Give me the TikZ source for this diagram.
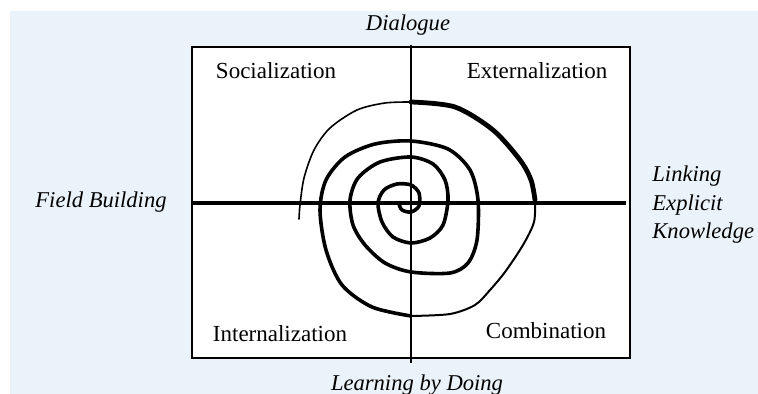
\documentclass[tikz,border=0pt]{standalone}
\usepackage{fontspec}
\setmainfont{Liberation Serif}
\definecolor{bgblue}{RGB}{235,243,250}
\begin{document}
\begin{tikzpicture}[x=0.5pt,y=-0.5pt,
  quad/.style={font=\fontsize{11.5}{13}\selectfont,inner sep=0pt},
  pole/.style={font=\fontsize{11.3}{14.25}\selectfont\itshape,inner sep=0pt},
  arm/.style={line cap=round,line join=round}]
  \useasboundingbox (0,0) rectangle (758,394);
  \fill[white] (0,0) rectangle (758,394);
  \fill[bgblue] (10,11) rectangle (758,394);
  \path (192,47) coordinate (nw) (630,358) coordinate (se)
  (411,45) coordinate (top) (411,363) coordinate (bot)
  (192,203) coordinate (lft) (626,203) coordinate (rgt);
  \draw[fill=white,line width=1pt] (nw) rectangle (se);
  \draw[line width=1pt] (top) -- (bot);
  \draw[line width=2.4pt] (lft) -- (rgt);
  \path (276,71) node[quad] (soc) {Socialization}
  (537,71) node[quad] (ext) {Externalization}
  (280,334) node[quad] (int) {Internalization}
  (546,331) node[quad] (com) {Combination};
  \path (408,25) node[pole] (dia) {Dialogue}
  (417,385) node[pole] (lbd) {Learning by Doing}
  (101,202) node[pole] (fb) {Field Building}
  (652,205) node[pole,anchor=west,align=left] (lek) {Linking\\Explicit\\Knowledge};
  \draw[arm,line width=0.8pt] plot[smooth] coordinates {(299,219) (300,205) (304,178) (314,150) (330,128) (357,110) (385,103) (411,102)};
  \draw[arm,line width=2.4pt] plot[smooth] coordinates {(411,102) (455,107) (493,130) (520,160) (531,180) (535,200)};
  \draw[arm,line width=1pt] plot[smooth] coordinates {(535,200) (534,222) (523,245) (505,272) (490,290) (475,305) (450,314) (411,316)};
  \draw[arm,line width=1.8pt] plot[smooth] coordinates {(411,316) (372,307) (342,285) (326,250) (320,210) (326,180) (345,157) (375,144) (411,141) (448,149) (470,170) (478,200) (477,240) (468,263) (450,273) (411,272) (385,263) (365,245) (353,225) (350,200) (358,178) (380,162) (411,157) (433,164) (445,180) (448,200) (443,225) (430,238) (411,243) (393,237) (382,222) (378,203) (384,190) (397,184) (411,185) (419,193) (419,206) (411,212) (402,210) (399,204)};
\end{tikzpicture}
\end{document}
